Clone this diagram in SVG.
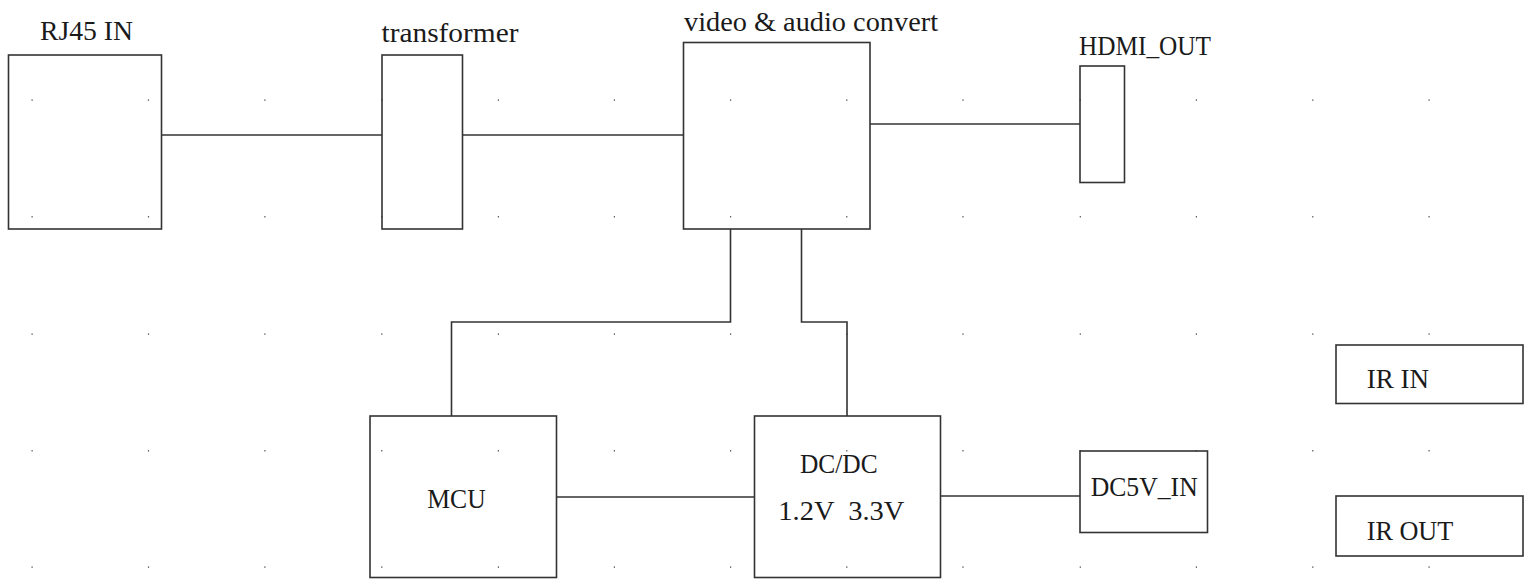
<svg xmlns="http://www.w3.org/2000/svg" width="1532" height="579" viewBox="0 0 1532 579">
<style>
.box{fill:none;stroke:#333;stroke-width:1.6}
.wire{fill:none;stroke:#333;stroke-width:1.6}
.dot{fill:#333}
text{font-family:'Liberation Serif','Times New Roman','DejaVu Serif',serif;font-size:27px;fill:#1a1a1a}
</style>
<rect width="1532" height="579" fill="#fff"/>
<defs>
<g id="dotrow">
<rect class="dot" x="31.5" y="-0.5" width="1.2" height="1.2"/>
<rect class="dot" x="147.9" y="-0.5" width="1.2" height="1.2"/>
<rect class="dot" x="264.3" y="-0.5" width="1.2" height="1.2"/>
<rect class="dot" x="381.2" y="-0.5" width="1.2" height="1.2"/>
<rect class="dot" x="497.8" y="-0.5" width="1.2" height="1.2"/>
<rect class="dot" x="613.8" y="-0.5" width="1.2" height="1.2"/>
<rect class="dot" x="730" y="-0.5" width="1.2" height="1.2"/>
<rect class="dot" x="846.2" y="-0.5" width="1.2" height="1.2"/>
<rect class="dot" x="962.4" y="-0.5" width="1.2" height="1.2"/>
<rect class="dot" x="1079.7" y="-0.5" width="1.2" height="1.2"/>
<rect class="dot" x="1195.8" y="-0.5" width="1.2" height="1.2"/>
<rect class="dot" x="1312.2" y="-0.5" width="1.2" height="1.2"/>
<rect class="dot" x="1428.5" y="-0.5" width="1.2" height="1.2"/>
</g>
</defs>
<g id="grid">
<use href="#dotrow" y="100"/>
<use href="#dotrow" y="216.7"/>
<use href="#dotrow" y="334"/>
<use href="#dotrow" y="450.7"/>
<use href="#dotrow" y="567"/>
</g>
<g id="connectors">
<path class="wire" d="M161.5 135H382"/>
<path class="wire" d="M462.5 135H683.5"/>
<path class="wire" d="M870 124H1080"/>
<path class="wire" d="M730.5 229V322H451.5V416"/>
<path class="wire" d="M801.5 229V322H847V416"/>
<path class="wire" d="M556.5 497H754.5"/>
<path class="wire" d="M940.5 496H1080"/>
</g>
<g id="rj45">
<rect class="box" x="8.5" y="55" width="153" height="174"/>
<text x="40" y="39.5" textLength="93" lengthAdjust="spacingAndGlyphs">RJ45 IN</text>
</g>
<g id="transformer">
<rect class="box" x="382" y="55" width="80.5" height="174"/>
<text x="381.5" y="41.5" textLength="137" lengthAdjust="spacingAndGlyphs">transformer</text>
</g>
<g id="video">
<rect class="box" x="683.5" y="42.5" width="186.5" height="186.5"/>
<text x="684" y="30.7" textLength="254" lengthAdjust="spacingAndGlyphs">video &amp; audio convert</text>
</g>
<g id="hdmi">
<rect class="box" x="1080" y="66" width="44.5" height="116.5"/>
<text x="1079" y="54.5" textLength="132" lengthAdjust="spacingAndGlyphs">HDMI_OUT</text>
</g>
<g id="mcu">
<rect class="box" x="370" y="416" width="186.5" height="161.5"/>
<text x="427.3" y="508.3" textLength="58.4" lengthAdjust="spacingAndGlyphs">MCU</text>
</g>
<g id="dcdc">
<rect class="box" x="754.5" y="416" width="186" height="161.5"/>
<text x="800" y="473.3" textLength="77.7" lengthAdjust="spacingAndGlyphs">DC/DC</text>
<text x="778.3" y="520" textLength="126" lengthAdjust="spacingAndGlyphs" xml:space="preserve">1.2V  3.3V</text>
</g>
<g id="dc5v">
<rect class="box" x="1080" y="451" width="127.5" height="81.5"/>
<text x="1090.7" y="495.7" textLength="107" lengthAdjust="spacingAndGlyphs">DC5V_IN</text>
</g>
<g id="irin">
<rect class="box" x="1336" y="345" width="187" height="58.5"/>
<text x="1366.7" y="388.3" textLength="62.3" lengthAdjust="spacingAndGlyphs">IR IN</text>
</g>
<g id="irout">
<rect class="box" x="1336" y="496" width="187" height="60"/>
<text x="1366.7" y="540" textLength="86.6" lengthAdjust="spacingAndGlyphs">IR OUT</text>
</g>
</svg>
